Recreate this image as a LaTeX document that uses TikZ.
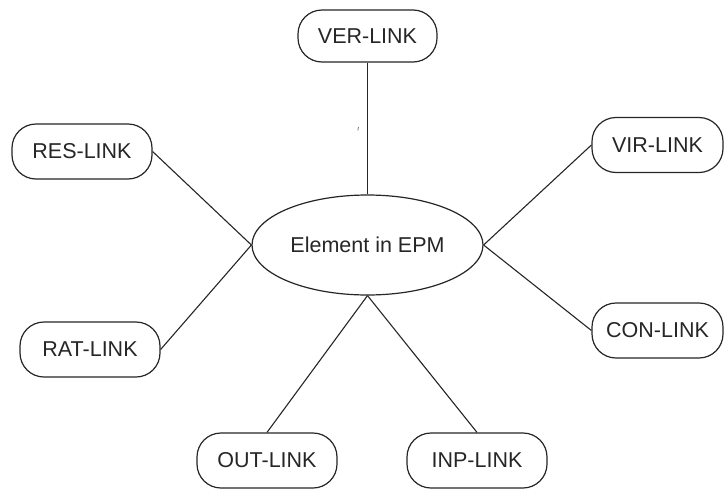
\documentclass[tikz,border=0pt]{standalone}
\usepackage{fontspec}
\setmainfont{Liberation Sans}
\usetikzlibrary{shapes.geometric}
\begin{document}
\begin{tikzpicture}[x=1pt,y=-1pt,
  linkbox/.style={draw=black!85,line width=1.2pt,rounded corners=24pt,minimum width=140pt,minimum height=55pt,inner sep=0pt,font=\fontsize{21.5}{24}\selectfont,text=black!85},
  centre/.style={draw=black!85,line width=1.2pt,ellipse,minimum width=231pt,minimum height=100pt,inner sep=0pt,font=\fontsize{21.5}{24}\selectfont,text=black!85},
  conn/.style={draw=black!85,line width=1.1pt}]
\useasboundingbox (0,0) rectangle (725,490);
\fill[white] (0,0) rectangle (725,490);
\node[centre] (e) at (367.5,245) {Element in EPM};
\node[linkbox,minimum height=52pt,minimum width=139pt] (ver) at (367.5,36) {VER-LINK};
\node[linkbox] (res) at (82,151.5) {RES-LINK};
\node[linkbox,minimum width=131pt] (vir) at (657.5,145) {VIR-LINK};
\node[linkbox,minimum width=131pt] (con) at (657.5,330.5) {CON-LINK};
\node[linkbox] (rat) at (90,349.5) {RAT-LINK};
\node[linkbox] (out) at (267,460.5) {OUT-LINK};
\node[linkbox] (inp) at (477,460.5) {INP-LINK};
\draw[conn] (ver.south) -- (e.north);
\draw[conn] (res.east) -- (e.west);
\draw[conn] (rat.east) -- (e.west);
\draw[conn] (vir.west) -- (e.east);
\draw[conn] (con.west) -- (e.east);
\draw[conn] (out.north) -- (e.south);
\draw[conn] (inp.north) -- (e.south);
\coordinate (tickA) at (358.5,127);
\coordinate (tickB) at (357.8,130.5);
\draw[black!50,line width=0.8pt] (tickA) -- (tickB);
\end{tikzpicture}
\end{document}
